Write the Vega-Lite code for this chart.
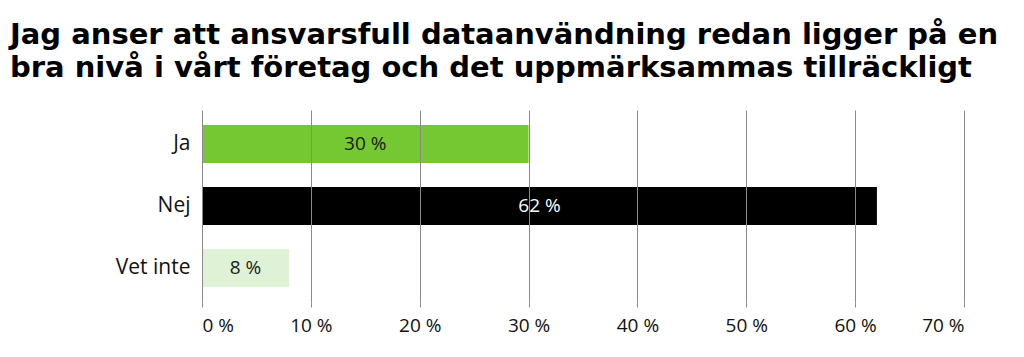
{
  "$schema": "https://vega.github.io/schema/vega-lite/v6.json",
  "width": 762,
  "height": 192,
  "autosize": {"type": "none"},
  "padding": {"left": 202, "top": 110, "right": 58, "bottom": 55},
  "background": "white",
  "title": {
    "text": ["Jag anser att ansvarsfull dataanvändning redan ligger på en", "bra nivå i vårt företag och det uppmärksammas tillräckligt"],
    "anchor": "start",
    "frame": "group",
    "dx": -192,
    "offset": 27,
    "font": "DejaVu Sans",
    "fontSize": 29,
    "fontWeight": "bold",
    "lineHeight": 33,
    "color": "#000000"
  },
  "data": {
    "values": [
      {"svar": "Ja", "andel": 30},
      {"svar": "Nej", "andel": 62},
      {"svar": "Vet inte", "andel": 8}
    ]
  },
  "config": {
    "view": {"stroke": null},
    "font": "Open Sans"
  },
  "encoding": {
    "y": {
      "field": "svar",
      "type": "nominal",
      "sort": ["Ja", "Nej", "Vet inte"],
      "scale": {"paddingInner": 0.385, "paddingOuter": 0.243},
      "axis": {
        "title": null,
        "domain": false,
        "ticks": false,
        "labelFontSize": 21,
        "labelColor": "#111111",
        "labelPadding": 12,
        "labelFont": "Open Sans"
      }
    }
  },
  "layer": [
    {
      "mark": {"type": "bar"},
      "encoding": {
        "x": {
          "field": "andel",
          "type": "quantitative",
          "scale": {"domain": [0, 70]},
          "axis": {
            "title": null,
            "values": [0, 10, 20, 30, 40, 50, 60, 70],
            "labelExpr": "datum.value + ' %'",
            "domain": false,
            "grid": true,
            "gridColor": "#8a8a8a",
            "gridWidth": 1,
            "gridOpacity": 1,
            "ticks": true,
            "tickSize": 5,
            "tickColor": "#8a8a8a",
            "labelFont": "Open Sans",
            "labelFontSize": 19,
            "labelColor": "#111111",
            "labelPadding": 9,
            "zindex": 1
          }
        },
        "color": {
          "field": "svar",
          "type": "nominal",
          "scale": {"domain": ["Ja", "Nej", "Vet inte"], "range": ["#76c832", "#000000", "#dff2d5"]},
          "legend": null
        }
      }
    },
    {
      "transform": [
        {"calculate": "datum.andel / 2", "as": "mitt"},
        {"calculate": "datum.andel + ' %'", "as": "etikett"}
      ],
      "mark": {"type": "text", "fontSize": 19, "font": "Open Sans", "align": "center", "baseline": "middle"},
      "encoding": {
        "x": {"field": "mitt", "type": "quantitative"},
        "text": {"field": "etikett", "type": "nominal"},
        "color": {
          "condition": {"test": "datum.svar === 'Nej'", "value": "#ffffff"},
          "value": "#1a1a1a"
        }
      }
    }
  ]
}
